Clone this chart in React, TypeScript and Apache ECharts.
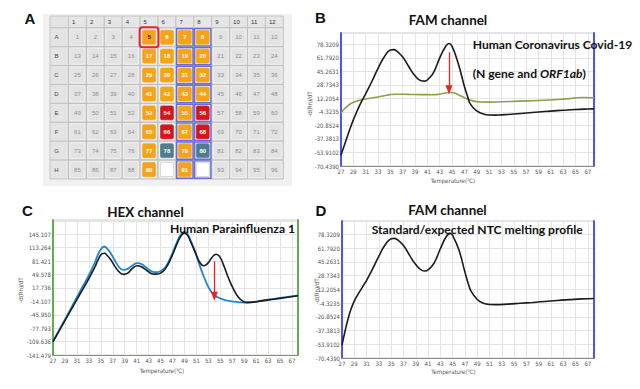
import { useEffect, useRef } from 'react';
import * as echarts from 'echarts';

// ---------------- data ----------------
const plateRowLabels = ['A', 'B', 'C', 'D', 'E', 'F', 'G', 'H'];
const plateColLabels = ['1', '2', '3', '4', '5', '6', '7', '8', '9', '10', '11', '12'];
const orangeWells = [5, 6, 7, 8, 17, 18, 19, 20, 29, 30, 31, 32, 41, 42, 43, 44, 53, 55, 65, 67, 77, 79, 89, 91];
const redWells = [54, 56, 66, 68];
const slateWells = [78, 80];
const blankWells = [90, 92];
const selectedWells = [5];
const outlinedColumns = [7, 8];

const famTickLabels = ['-70.4390', '-53.9102', '-37.3813', '-20.8524', '-4.3235', '12.2054', '28.7343', '45.2631', '61.7920', '78.3209'];
const hexTickLabels = ['-141.479', '-109.636', '-77.793', '-45.950', '-14.107', '17.736', '49.578', '81.421', '113.264', '145.107'];

// Panel B: FAM channel, Covid-19 sample (black) and green trace
const covidSampleFam = [
  [27, -57], [27.5, -46], [28, -35], [28.5, -24], [29, -14], [29.5, -5], [30, 3.5], [30.5, 11], [31, 18], [32, 33],
  [33, 49], [34, 63], [35, 71.5], [35.5, 72], [36, 70.5], [37, 63], [38, 51], [39, 40], [40, 34], [40.6, 33.5],
  [41, 35], [42, 44], [43, 62], [44, 76.5], [44.5, 79.5], [45, 76], [46, 55], [47, 27], [47.5, 15], [48, 5],
  [49, -3], [50, -6.5], [51, -8], [52, -8.2], [53, -7.8], [55, -6.8], [57, -5.5], [59, -4.3], [61, -3.2], [63, -2.2],
  [65, -1.3], [67, -0.7], [68, -0.5],
];
const covidTraceFam = [
  [27, -5.5], [27.5, -1], [28, 2.5], [28.5, 5.5], [29, 7.5], [30, 10], [31, 11.5], [32, 12.8], [33, 14], [34, 15.5],
  [35, 17], [36, 17.5], [38, 17.2], [40, 17], [42, 16.8], [43, 17.5], [44, 19], [44.7, 19.5], [45.5, 18.5], [46.5, 15],
  [47.5, 11.5], [48.5, 9], [49.5, 8], [51, 7.8], [53, 8.2], [56, 9], [59, 9.8], [62, 11], [64, 12], [65, 13],
  [66, 13.4], [68, 13.2],
];
const covidArrow = [[44.5, 69], [44.5, 23]];

// Panel C: HEX channel, Parainfluenza 1 sample (black) and reference (blue)
const paraSampleHex = [
  [27, -110], [28, -85], [29, -60], [30, -35], [31, -10], [32, 15], [33, 40], [34, 67], [34.6, 86], [35.2, 99],
  [35.6, 100], [36, 96], [36.7, 84], [37.5, 66], [38.2, 54], [38.8, 50], [39.5, 53], [40.3, 64], [41.1, 70.5], [41.8, 68],
  [42.8, 58], [43.7, 51], [44.3, 50.5], [45, 53], [45.8, 63], [46.8, 90], [47.8, 124], [48.5, 143], [49, 147.5], [49.5, 143],
  [50.1, 125], [50.8, 102], [51.5, 80], [52.2, 70.5], [52.9, 76], [53.6, 90], [54.3, 97.7], [54.9, 92], [55.6, 70], [56.4, 40],
  [57.2, 15], [58, -4], [58.7, -13], [59.3, -16.5], [60, -16.5], [62, -13], [64, -9], [66, -5], [68, -1],
];
const paraReferenceHex = [
  [27, -109], [28, -83], [29, -57], [30, -31], [31, -4], [32, 22], [33, 48], [34, 78], [34.6, 99], [35.2, 113],
  [35.6, 115.5], [36, 112], [36.7, 99], [37.5, 79], [38.2, 65], [38.8, 60.5], [39.5, 63], [40.3, 71], [41.1, 76.5], [41.8, 74.5],
  [42.8, 64], [43.7, 56], [44.3, 55], [45, 58], [45.8, 67], [46.8, 94], [47.8, 128], [48.5, 146], [49, 150], [49.5, 146],
  [50.1, 128], [50.8, 104], [51.5, 73], [52.2, 46], [53, 20], [53.8, 3], [54.5, -4], [55.3, -9], [56.2, -12.5], [57.2, -15],
  [58.3, -16.5], [59.3, -17], [60, -16.5], [62, -12], [64, -8], [66, -4], [68, 0],
];
const paraArrow = [[54, 81], [54, -2]];

// Panel D: FAM channel, expected NTC profile
const ntcFam = [
  [27, -55], [27.5, -38], [28, -23], [28.5, -11], [29, -2], [29.5, 5], [30, 11], [30.5, 17], [31, 23], [32, 37],
  [33, 52], [34, 65.5], [35, 73], [35.5, 73.5], [36, 72], [37, 65], [38, 53], [39, 42], [40, 35], [40.5, 34.2],
  [41, 35.5], [42, 44], [43, 61], [44, 76], [44.6, 79.5], [45, 77], [46, 60], [47, 33], [47.5, 20], [48, 10],
  [49, 0], [50, -4.5], [51, -6], [52, -6.2], [54, -5.6], [56, -4.6], [58, -3.6], [60, -2.5], [62, -1.2], [64, -0.2],
  [66, 0.7], [68, 1.2],
];

// ---------------- styling / layout ----------------
const FAM_MIN = -70.439;
const FAM_STEP = 16.52888;
const HEX_MIN = -141.479;
const HEX_STEP = 31.8429;
const T_MIN = 27;
const T_MAX = 68;

const AXIS_FONT = '"Liberation Sans Narrow", "DejaVu Sans Condensed", "Liberation Sans", sans-serif';
const HEAD_FONT = 'Lato, "Noto Sans", sans-serif';
const LETTER_FONT = '"Liberation Sans", Arial, sans-serif';
const BLUE_FRAME = '#5252ee';
const GREEN_FRAME = '#62ad4c';
const GRID_LINE = '#e4e4e4';

function tickFormatter(labels: string[], min: number, step: number) {
  return (v: number) => {
    const i = Math.round((v - min) / step);
    if (i < 0 || i >= labels.length) return '';
    if (Math.abs(v - (min + i * step)) > step * 0.01) return '';
    return labels[i];
  };
}

function xAxis(gridIndex: number) {
  return {
    type: 'value',
    gridIndex,
    min: T_MIN,
    max: T_MAX,
    interval: 2,
    axisLine: { show: true, onZero: false, lineStyle: { color: '#8c8c8c', width: 1 } },
    axisTick: { show: false },
    axisLabel: { fontSize: 6, color: '#555', margin: 2.5, showMaxLabel: false, fontFamily: AXIS_FONT },
    splitLine: { show: true, lineStyle: { color: GRID_LINE, width: 1 } },
  };
}

function yLeft(gridIndex: number, min: number, max: number, step: number, labels: string[], color: string) {
  return {
    type: 'value',
    gridIndex,
    position: 'left',
    min,
    max,
    interval: step,
    axisLine: { show: true, onZero: false, lineStyle: { color, width: 2 } },
    axisTick: { show: false },
    axisLabel: {
      fontSize: 6,
      color: '#555',
      margin: 2,
      showMaxLabel: false,
      fontFamily: AXIS_FONT,
      formatter: tickFormatter(labels, min, step),
    },
    splitLine: { show: true, lineStyle: { color: GRID_LINE, width: 1 } },
  };
}

function yRight(gridIndex: number, min: number, max: number, color: string) {
  return {
    type: 'value',
    gridIndex,
    position: 'right',
    min,
    max,
    axisLine: { show: true, onZero: false, lineStyle: { color, width: 2 } },
    axisTick: { show: false },
    axisLabel: { show: false },
    splitLine: { show: false },
  };
}

function curve(data: number[][], xi: number, yi: number, color: string, width: number, z: number, arrow?: number[][]) {
  const s: any = {
    type: 'line',
    xAxisIndex: xi,
    yAxisIndex: yi,
    data,
    smooth: true,
    symbol: 'none',
    showSymbol: false,
    lineStyle: { color, width },
    itemStyle: { color },
    z,
    silent: true,
  };
  if (arrow) {
    s.markLine = {
      silent: true,
      symbol: ['none', 'triangle'],
      symbolSize: [7, 9],
      label: { show: false },
      lineStyle: { color: '#e8231f', width: 1.3, type: 'solid' },
      itemStyle: { color: '#e8231f' },
      data: [[{ coord: arrow[0] }, { coord: arrow[1] }]],
    };
  }
  return s;
}

function plateGraphics() {
  const els: any[] = [];
  const overlays: any[] = [];
  const x0 = 68.5;
  const y0 = 27.8;
  const cw = 17.9;
  const ch = 18.9;
  els.push({ type: 'rect', shape: { x: 43, y: 14, width: 249, height: 172 }, style: { fill: '#f1f1f1' } });
  // corner + column headers
  els.push({ type: 'rect', shape: { x: 50, y: 16, width: x0 - 50, height: y0 - 16 }, style: { fill: '#e4e4e4', stroke: '#c4c4c4', lineWidth: 1 } });
  plateColLabels.forEach((lab, c) => {
    const x = x0 + cw * c;
    els.push({ type: 'rect', shape: { x, y: 16, width: cw, height: y0 - 16 }, style: { fill: '#e6e6e6', stroke: '#c4c4c4', lineWidth: 1 } });
    els.push({ type: 'text', x: x + 3.5, y: 21.8, style: { text: lab, fontSize: 6, fontFamily: LETTER_FONT, fill: '#333', align: 'left', verticalAlign: 'middle' } });
  });
  plateRowLabels.forEach((lab, r) => {
    const y = y0 + ch * r;
    els.push({ type: 'rect', shape: { x: 50, y, width: x0 - 50, height: ch }, style: { fill: '#e4e4e4', stroke: '#c4c4c4', lineWidth: 1 } });
    els.push({ type: 'text', x: 56.5, y: y + ch / 2, style: { text: lab, fontSize: 6, fontFamily: LETTER_FONT, fill: '#444', align: 'center', verticalAlign: 'middle' } });
  });
  for (let r = 0; r < plateRowLabels.length; r++) {
    for (let c = 0; c < plateColLabels.length; c++) {
      const well = r * 12 + c + 1;
      const x = x0 + cw * c;
      const y = y0 + ch * r;
      els.push({ type: 'rect', shape: { x, y, width: cw, height: ch }, style: { fill: '#e3e3e3', stroke: '#bfbfbf', lineWidth: 1 } });
      els.push({ type: 'rect', shape: { x: x + 1.5, y: y + 1.5, width: cw - 3, height: ch - 3 }, style: { fill: 'none', stroke: '#f3f3f3', lineWidth: 0.8 } });
      let fill = '';
      if (orangeWells.includes(well)) fill = '#f6a21a';
      else if (redWells.includes(well)) fill = '#d6161c';
      else if (slateWells.includes(well)) fill = '#4f7c8f';
      else if (blankWells.includes(well)) fill = '#ffffff';
      if (fill) {
        els.push({ type: 'rect', shape: { x: x + 2.5, y: y + 2.5, width: cw - 5, height: ch - 5, r: 1.5 }, style: { fill, stroke: fill === '#ffffff' ? '#c8c8c8' : fill, lineWidth: 0.6 } });
        if (fill !== '#ffffff') {
          els.push({ type: 'text', x: x + cw / 2, y: y + ch / 2, style: { text: String(well), fontSize: 6, fontWeight: 'bold', fontFamily: LETTER_FONT, fill: selectedWells.includes(well) ? '#1a1a1a' : '#ffffff', align: 'center', verticalAlign: 'middle' } });
        }
      } else {
        els.push({ type: 'text', x: x + cw / 2, y: y + ch / 2, style: { text: String(well), fontSize: 6, fontFamily: LETTER_FONT, fill: '#8d8d8d', align: 'center', verticalAlign: 'middle' } });
      }
      if (outlinedColumns.includes(c + 1)) {
        overlays.push({ type: 'rect', shape: { x: x + 0.8, y: y + 0.8, width: cw - 1.6, height: ch - 1.6 }, style: { fill: 'none', stroke: '#6b6bdc', lineWidth: 1.4 } });
      }
      if (selectedWells.includes(well)) {
        overlays.push({ type: 'rect', shape: { x: x - 0.5, y: y - 0.5, width: cw + 1, height: ch + 1, r: 3 }, style: { fill: 'none', stroke: '#e8232a', lineWidth: 2 } });
      }
    }
  }
  return [...els, ...overlays];
}

function txt(text: string, x: number, y: number, size: number, align: string, extra: any = {}) {
  return {
    type: 'text',
    x,
    y,
    z: 100,
    style: { text, fontSize: size, fontWeight: 'bold', fontFamily: HEAD_FONT, fill: '#111', align, verticalAlign: 'middle', ...extra },
  };
}

function smallTxt(text: string, x: number, y: number, rotation = 0) {
  return {
    type: 'text',
    x,
    y,
    rotation,
    z: 100,
    style: { text, fontSize: 6, fontFamily: AXIS_FONT, fill: '#555', align: 'center', verticalAlign: 'middle' },
  };
}

export default function App() {
  const ref = useRef<HTMLDivElement>(null);
  useEffect(() => {
    if (!ref.current) return;
    const chart = echarts.init(ref.current, undefined, { renderer: 'svg' });
    const famMaxB = 92.4;
    const famMaxD = 94.4;
    const hexMax = 179;
    const option: any = {
      animation: false,
      backgroundColor: '#ffffff',
      grid: [
        { left: 341, top: 33, width: 253, height: 133, show: true, borderColor: '#c9c9e6', borderWidth: 1, outerBoundsMode: 'none' },
        { left: 53, top: 220, width: 245, height: 135, show: true, borderColor: '#c8dcc0', borderWidth: 1, outerBoundsMode: 'none' },
        { left: 342, top: 221, width: 252, height: 137, show: true, borderColor: '#c9c9e6', borderWidth: 1, outerBoundsMode: 'none' },
      ],
      xAxis: [xAxis(0), xAxis(1), xAxis(2)],
      yAxis: [
        yLeft(0, FAM_MIN, famMaxB, FAM_STEP, famTickLabels, BLUE_FRAME),
        yLeft(1, HEX_MIN, hexMax, HEX_STEP, hexTickLabels, GREEN_FRAME),
        yLeft(2, FAM_MIN, famMaxD, FAM_STEP, famTickLabels, BLUE_FRAME),
        yRight(0, FAM_MIN, famMaxB, BLUE_FRAME),
        yRight(1, HEX_MIN, hexMax, GREEN_FRAME),
        yRight(2, FAM_MIN, famMaxD, BLUE_FRAME),
      ],
      series: [
        curve(covidTraceFam, 0, 0, '#86a24a', 1.6, 2),
        curve(covidSampleFam, 0, 0, '#1b1b1b', 1.6, 3, covidArrow),
        curve(paraReferenceHex, 1, 1, '#1f86d4', 1.8, 2),
        curve(paraSampleHex, 1, 1, '#1b1b1b', 1.6, 3, paraArrow),
        curve(ntcFam, 2, 2, '#1b1b1b', 1.6, 3),
      ],
      graphic: [
        ...plateGraphics(),
        txt('A', 30, 18.5, 15, 'center', { fontFamily: LETTER_FONT }),
        txt('B', 320.5, 17.5, 15, 'center', { fontFamily: LETTER_FONT }),
        txt('C', 27.5, 210.5, 15, 'center', { fontFamily: LETTER_FONT }),
        txt('D', 321, 210, 15, 'center', { fontFamily: LETTER_FONT }),
        txt('FAM channel', 448, 20, 13.4, 'center'),
        txt('HEX channel', 145.5, 211.5, 13.4, 'center'),
        txt('FAM channel', 447.5, 209.5, 13.4, 'center'),
        txt('Human Coronavirus Covid-19', 472.7, 44.5, 12.1, 'left'),
        {
          type: 'text',
          x: 472.7,
          y: 73,
          z: 100,
          style: {
            text: '{n|(N gene and }{i|ORF1ab}{n|)}',
            align: 'left',
            verticalAlign: 'middle',
            rich: {
              n: { fontSize: 12.1, fontWeight: 'bold', fontFamily: HEAD_FONT, fill: '#111' },
              i: { fontSize: 12.1, fontWeight: 'bold', fontStyle: 'italic', fontFamily: HEAD_FONT, fill: '#111' },
            },
          },
        },
        txt('Human Parainfluenza 1', 170, 228.5, 12.1, 'left'),
        txt('Standard/expected NTC melting profile', 371.7, 229, 12.1, 'left'),
        smallTxt('Temperature(\u2103)', 453, 180.5),
        smallTxt('Temperature(\u2103)', 162, 370.5),
        smallTxt('Temperature(\u2103)', 453.5, 371),
        smallTxt('-d(Rn)/dT', 309, 104, Math.PI / 2),
        smallTxt('-d(Rn)/dT', 20, 290, Math.PI / 2),
        smallTxt('-d(Rn)/dT', 316, 291, Math.PI / 2),
      ],
    };
    chart.setOption(option);
    return () => chart.dispose();
  }, []);
  return <div ref={ref} style={{ position: 'absolute', left: 0, top: 0, width: 640, height: 389, background: '#fff' }} />;
}
